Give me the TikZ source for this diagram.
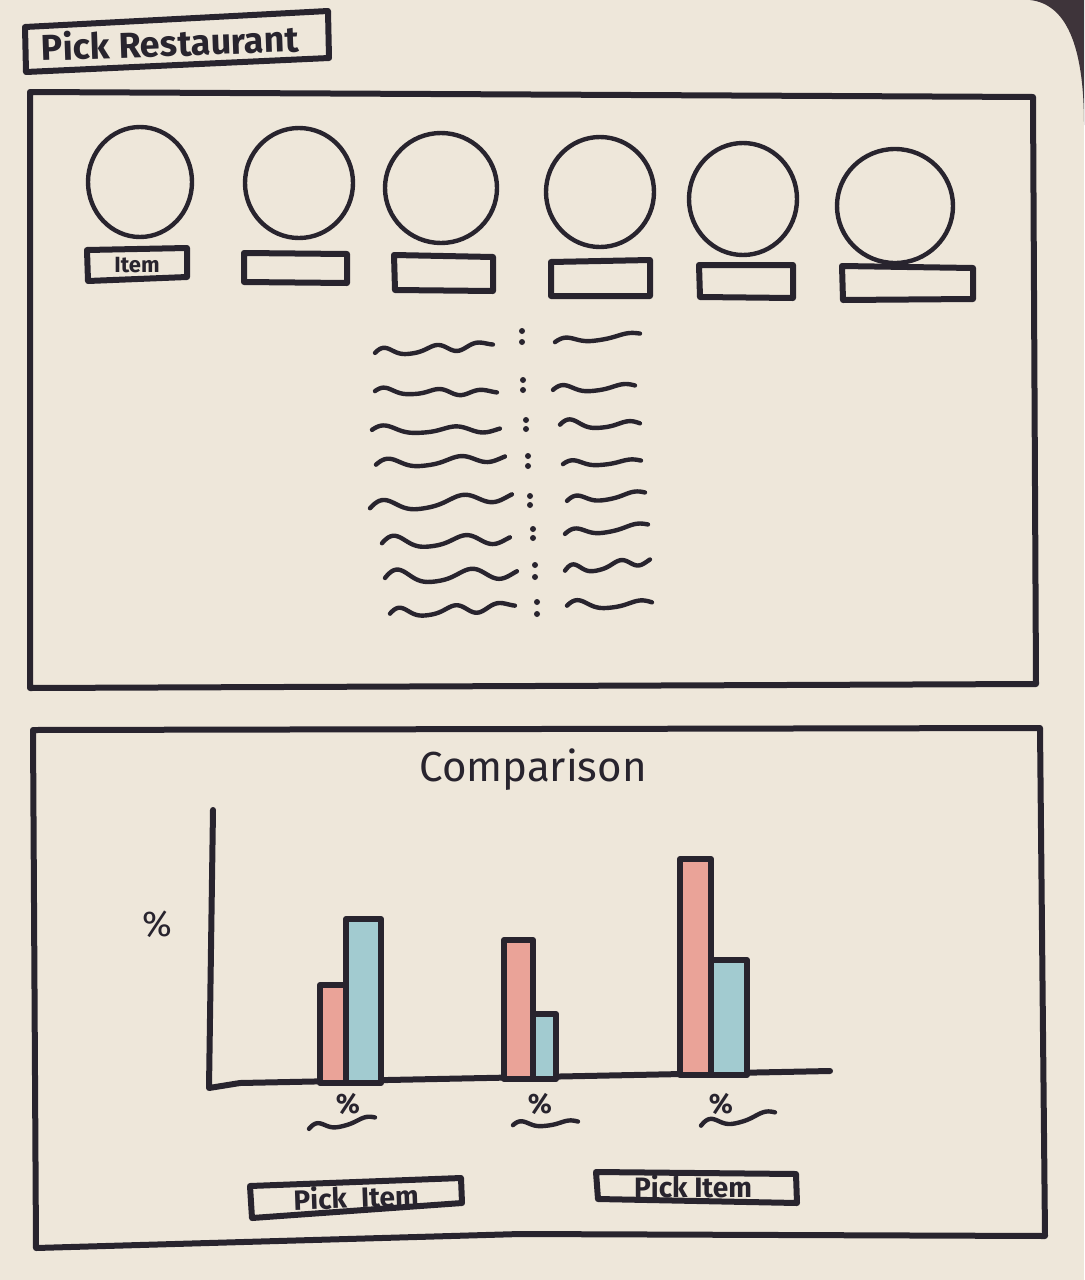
\documentclass[tikz,border=0pt]{standalone}
\usepackage{fontspec}
\setmainfont{Fira Sans}
\definecolor{paper}{RGB}{238,231,218}
\definecolor{desk}{RGB}{62,52,58}
\definecolor{inkc}{RGB}{40,36,46}
\definecolor{barpink}{RGB}{234,163,152}
\definecolor{barblue}{RGB}{162,203,208}
% wavy placeholder line: x0 y0 x1 y1 amplitude cycles
\newcommand\sqwave[6]{%
  \draw[sq] plot[domain=0:1, samples=60, smooth]
    ({#1+(#3-#1)*\x}, {#2+(#4-#2)*\x - #5*(sin(360*#6*\x)+0.35*sin(540*#6*\x+40))*(1-0.6*\x)});}
\newcommand\colonmark[3]{%
  \fill[inkc] (#1,#2) circle (1.5pt);
  \fill[inkc] (#1,#3) circle (1.5pt);}
\begin{document}
\begin{tikzpicture}[x=0.5pt,y=-0.5pt,
  ink/.style={draw=inkc, line width=3pt, line join=round, line cap=round},
  ring/.style={draw=inkc, line width=2.2pt},
  sq/.style={draw=inkc, line width=2.2pt, line cap=round, line join=round},
  lbl/.style={text=inkc, inner sep=0pt, anchor=center}]

% paper and desk corner
\fill[paper] (0,0) rectangle (1084,1280);
\fill[desk] (1030,0) .. controls (1066,4) and (1084,45) .. (1084,125)
  -- (1084,0) -- cycle;

% title tab
\draw[ink] (25,27) -- (328,11) -- (329,58) -- (26,72) -- cycle;
\node[lbl, font=\fontsize{18}{18}\selectfont\bfseries, rotate=2] (title) at (170,42) {Pick Restaurant};

% upper panel
\draw[ink] (30,92) -- (1033,97) -- (1036,684) -- (30,688) -- cycle;

% restaurant circles
\draw[ring] (140,182) ellipse [x radius=52, y radius=55];
\draw[ring] (299,183) ellipse [x radius=54, y radius=55];
\draw[ring] (441,188) ellipse [x radius=56, y radius=55];
\draw[ring] (600,192) ellipse [x radius=54, y radius=55];
\draw[ring] (743,199) ellipse [x radius=54, y radius=56];
\draw[ring] (895,206) ellipse [x radius=58, y radius=57];

% captions under circles
\draw[ink] (87,250) -- (187,248) -- (187,277) -- (88,281) -- cycle;
\node[lbl, font=\fontsize{11}{11}\selectfont\bfseries] (item) at (137,265) {Item};
\draw[ink] (244,253) -- (347,254) -- (347,283) -- (244,282) -- cycle;
\draw[ink] (394,255) -- (493,257) -- (493,291) -- (395,290) -- cycle;
\draw[ink] (551,262) -- (650,260) -- (650,296) -- (551,296) -- cycle;
\draw[ink] (699,265) -- (793,265) -- (793,298) -- (700,297) -- cycle;
\draw[ink] (842,266) -- (973,268) -- (973,299) -- (843,300) -- cycle;

% detail rows
\sqwave{375}{354}{493}{344}{5}{2.5}
\colonmark{522}{331}{342}
\sqwave{555}{343}{640}{334}{4}{1.5}

\sqwave{375}{392}{497}{392}{4}{2.5}
\colonmark{523}{380}{390}
\sqwave{553}{391}{635}{386}{5}{1.5}

\sqwave{372}{431}{500}{429}{5}{2}
\colonmark{526}{420}{429}
\sqwave{560}{426}{640}{424}{6}{1.5}

\sqwave{376}{466}{505}{457}{6}{2}
\colonmark{528}{456}{466}
\sqwave{563}{465}{641}{461}{4}{1.5}

\sqwave{370}{510}{512}{495}{8}{2}
\colonmark{530}{496}{505}
\sqwave{567}{502}{645}{493}{5}{1.5}

\sqwave{382}{545}{510}{538}{8}{2}
\colonmark{533}{529}{538}
\sqwave{565}{535}{648}{525}{5}{1.5}

\sqwave{385}{580}{517}{572}{9}{2}
\colonmark{535}{565}{577}
\sqwave{565}{572}{650}{560}{6}{2}

\sqwave{390}{615}{515}{605}{6}{2.5}
\colonmark{537}{602}{614}
\sqwave{567}{607}{652}{603}{6}{1.5}

% lower panel
\draw[ink] (33,730) -- (1040,728) -- (1045,1236) -- (520,1234) -- (36,1248) -- cycle;
\node[lbl, font=\fontsize{21}{21}\selectfont] (cmp) at (533,770) {Comparison};

% chart axes
\coordinate (ytop) at (213,810);
\coordinate (origin) at (209,1088);
\coordinate (xend) at (830,1071);
\draw[ink] (ytop) -- (origin) -- (240,1083) -- (xend);
\node[lbl, font=\fontsize{18}{18}\selectfont] (ylab) at (157,924) {\%};

% bars
\filldraw[ink, fill=barpink] (320,1083) rectangle (346,985);
\filldraw[ink, fill=barblue] (346,1083) rectangle (381,919);
\filldraw[ink, fill=barpink] (504,1079) rectangle (533,940);
\filldraw[ink, fill=barblue] (533,1079) rectangle (556,1014);
\filldraw[ink, fill=barpink] (680,1075) rectangle (711,859);
\filldraw[ink, fill=barblue] (711,1075) rectangle (747,960);

% category labels
\node[lbl, font=\fontsize{14}{14}\selectfont\bfseries] (p1) at (348,1104) {\%};
\node[lbl, font=\fontsize{14}{14}\selectfont\bfseries] (p2) at (540,1104) {\%};
\node[lbl, font=\fontsize{14}{14}\selectfont\bfseries] (p3) at (721,1104) {\%};
\sqwave{309}{1130}{375}{1118}{5}{1.5}
\sqwave{513}{1126}{578}{1122}{4}{1.5}
\sqwave{701}{1127}{775}{1113}{6}{1.5}

% item pickers
\draw[ink] (250,1186) -- (461,1178) -- (462,1203) -- (252,1218) -- cycle;
\node[lbl, font=\fontsize{14}{14}\selectfont\bfseries, rotate=2] (pick1) at (356,1197) {Pick\enspace Item};
\draw[ink] (596,1172) -- (796,1174) -- (797,1203) -- (598,1199) -- cycle;
\node[lbl, font=\fontsize{14}{14}\selectfont\bfseries] (pick2) at (693,1186) {Pick Item};

\useasboundingbox (0,0) rectangle (1084,1280);
\end{tikzpicture}
\end{document}
